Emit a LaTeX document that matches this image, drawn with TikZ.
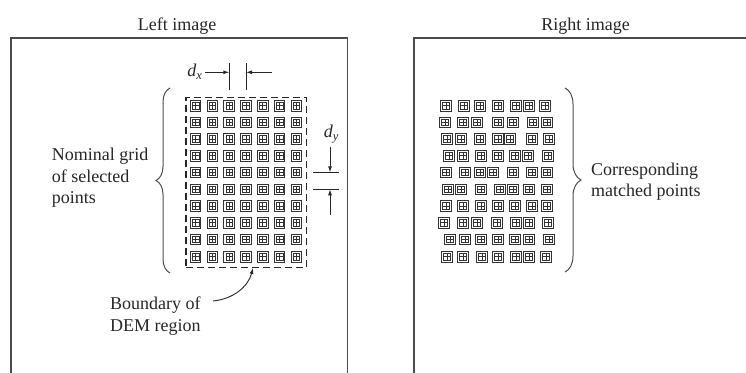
\documentclass[tikz,border=0pt]{standalone}
\usepackage{fontspec}
\setmainfont{Liberation Serif}
\usetikzlibrary{arrows.meta,decorations.pathreplacing}
\begin{document}
\begin{tikzpicture}[x=1pt,y=-1pt,
  lab/.style={font=\fontsize{18}{21.5}\selectfont, text=black!85, inner sep=0pt, align=left},
  frm/.style={draw=black!70, line width=1.6pt},
  cell/.style={draw=black!80, line width=0.8pt, minimum size=10.5pt, inner sep=0pt, fill=white,
    path picture={
      \coordinate (pc) at (path picture bounding box.center);
      \draw[black!80, line width=0.6pt] ([shift={(-3.3pt,-3.3pt)}]pc) rectangle ([shift={(3.3pt,3.3pt)}]pc);
      \draw[black!80, line width=0.55pt] ([xshift=-3.3pt]pc) -- ([xshift=3.3pt]pc) ([yshift=-3.3pt]pc) -- ([yshift=3.3pt]pc);
    }},
  dim/.style={draw=black!85, line width=0.9pt, -{Latex[length=6pt,width=4pt]}},
  ext/.style={draw=black!85, line width=0.9pt},
  brc/.style={draw=black!70, line width=1pt, decorate, decoration={brace, amplitude=#1}},
  bound/.style={draw=black!85, line width=1.2pt, dash pattern=on 7pt off 4pt, minimum width=120.7pt, minimum height=169.6pt, inner sep=0pt},
]
\useasboundingbox (0,0) rectangle (746,372);

% frames
\draw[frm] (11,374) -- (11,38) -- (347.5,38) -- (347.5,374);
\draw[frm] (414,374) -- (414,38) -- (748,38);

% titles
\node[lab, anchor=base] (tl) at (177,30) {Left image};
\node[lab, anchor=base] (tr) at (585.5,30) {Right image};

% DEM boundary
\node[bound] (dem) at (246.35,182.5) {};

% left grid
\foreach \y [count=\r] in {105.7,122.3,139,155.7,172.3,189.3,206,222.7,239.3,256.7}
  \foreach \c in {0,...,6}
    \node[cell] (L-\r-\c) at ({195.5+16.8*\c},\y) {};

% right grid
\foreach \x [count=\c] in {446,464,480,498,516,529,545} \node[cell] (R-1-\c) at (\x,105.7) {};
\foreach \x [count=\c] in {445,463,477,498,513,533,547} \node[cell] (R-2-\c) at (\x,122.3) {};
\foreach \x [count=\c] in {447,461,480,498,510,532,549} \node[cell] (R-3-\c) at (\x,139) {};
\foreach \x [count=\c] in {449,463,481,498,515,528,548} \node[cell] (R-4-\c) at (\x,155.7) {};
\foreach \x [count=\c] in {446,465,480,493,513,532,547} \node[cell] (R-5-\c) at (\x,172.3) {};
\foreach \x [count=\c] in {448,461,481,500,513,529,547} \node[cell] (R-6-\c) at (\x,189.3) {};
\foreach \x [count=\c] in {446,463,481,498,515,532,547} \node[cell] (R-7-\c) at (\x,206) {};
\foreach \x [count=\c] in {444,463,477,497,516,529,548} \node[cell] (R-8-\c) at (\x,222.7) {};
\foreach \x [count=\c] in {450,465,481,498,515,529,549} \node[cell] (R-9-\c) at (\x,239.3) {};
\foreach \x [count=\c] in {447,463,482,498,516,529,546} \node[cell] (R-10-\c) at (\x,256.7) {};

% braces
\draw[brc=14pt] (170,273) -- (170,88);
\draw[brc=16pt] (565,88) -- (565,272);

% labels (base anchor = last line baseline)
\node[lab, anchor=base west] (nom) at (51.7,203.5) {Nominal grid\\of selected\\points};
\node[lab, anchor=base west] (corr) at (591,196.5) {Corresponding\\matched points};
\node[lab, anchor=base west] (bnd) at (110,331) {Boundary of\\DEM region};

% d_x dimension
\node[lab] (dxlab) at (195,72) {\textit{d}\textsubscript{\textit{x}}};
\coordinate (e1t) at (229.3,63); \coordinate (e1b) at (229.3,90);
\coordinate (e2t) at (246,63);   \coordinate (e2b) at (246,90);
\coordinate (dxa) at (229.3,72.3); \coordinate (dxb) at (246,72.3);
\coordinate (dxr) at (271.7,72.3);
\draw[ext] (e1t) -- (e1b);
\draw[ext] (e2t) -- (e2b);
\draw[dim] ([xshift=2pt]dxlab.east |- dxa) -- (dxa);
\draw[dim] (dxr) -- (dxb);

% d_y dimension
\node[lab] (dylab) at (331.5,134) {\textit{d}\textsubscript{\textit{y}}};
\coordinate (h1l) at (313.3,172.3); \coordinate (h1r) at (339.3,172.3);
\coordinate (h2l) at (313.3,189.3); \coordinate (h2r) at (339.3,189.3);
\coordinate (dya) at (330,172.3); \coordinate (dyb) at (330,189.3);
\coordinate (dyt) at (330,146.7); \coordinate (dyd) at (330,215);
\draw[ext] (h1l) -- (h1r);
\draw[ext] (h2l) -- (h2r);
\draw[dim] (dyt) -- (dya);
\draw[dim] (dyd) -- (dyb);

% boundary arrow
\coordinate (bs) at (213,301);
\draw[dim] (bs) .. controls (233,299) and (248,287) .. ([xshift=6.7pt]dem.south);
\end{tikzpicture}
\end{document}
